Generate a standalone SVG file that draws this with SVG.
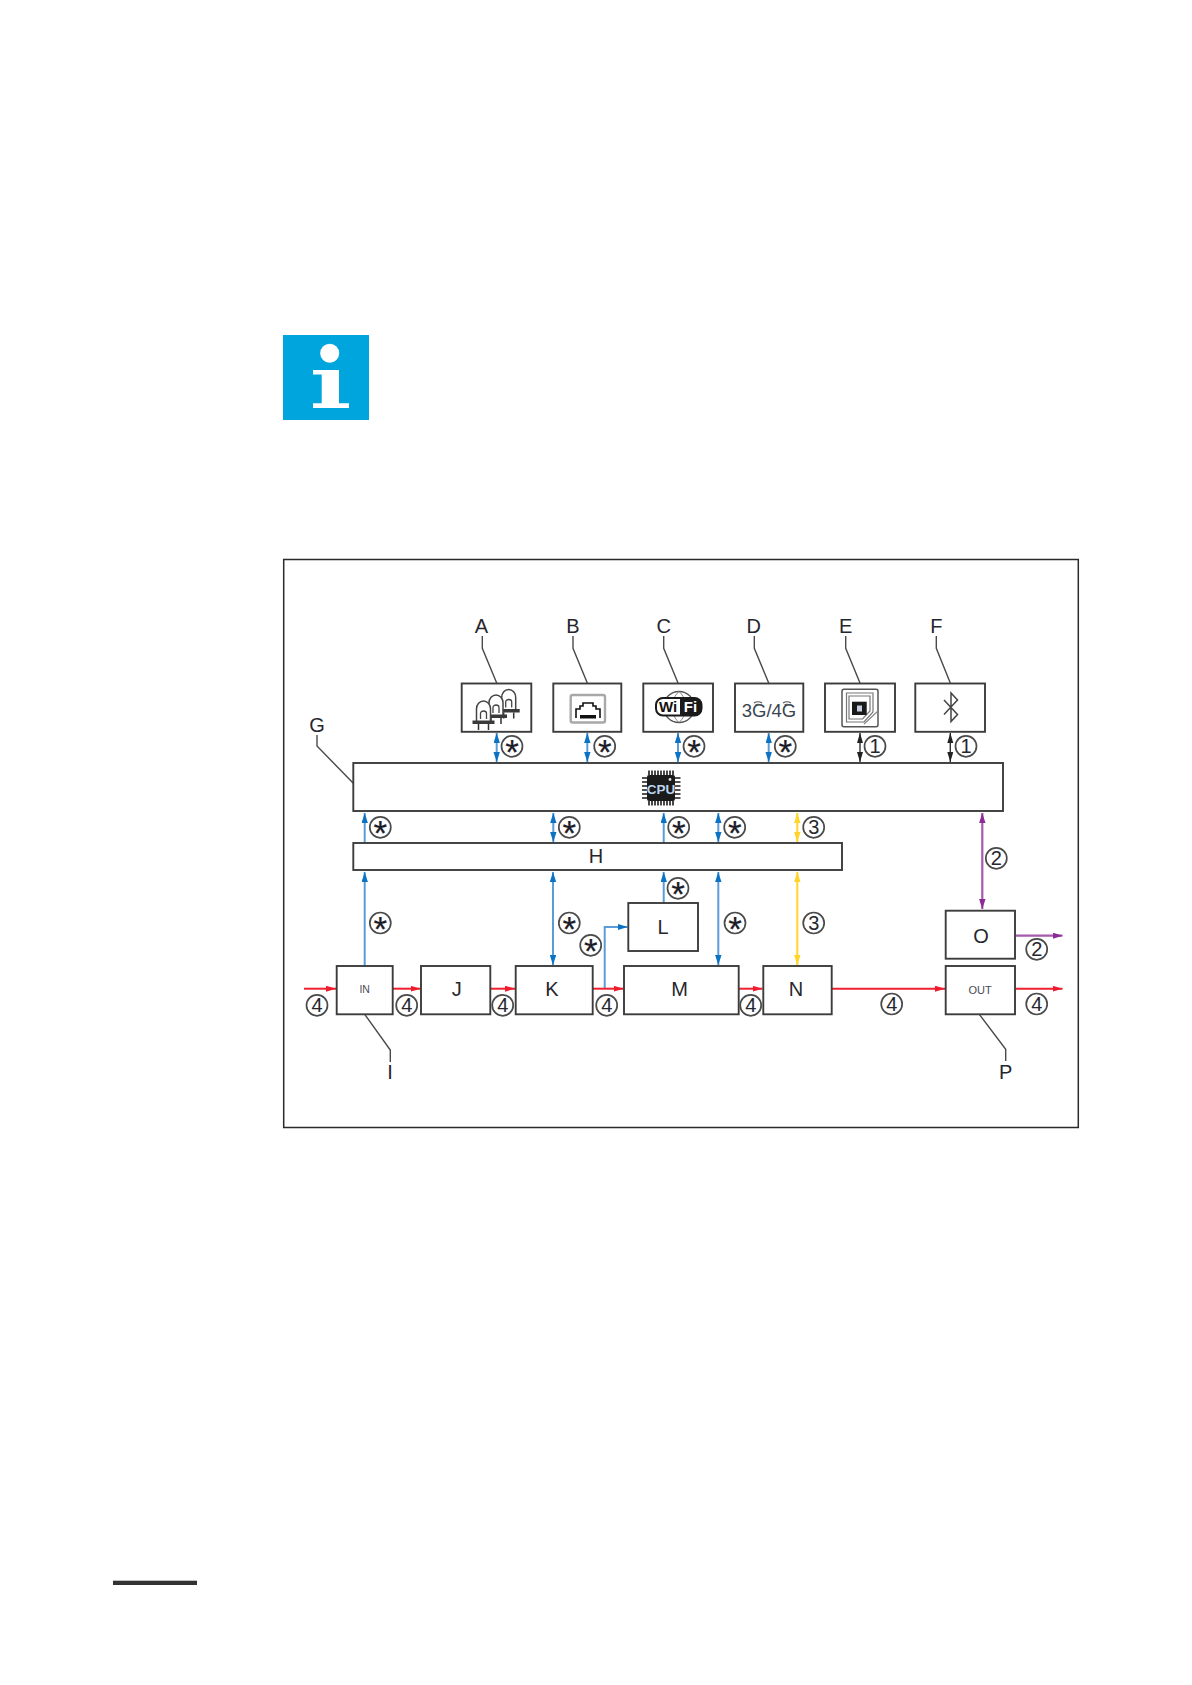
<svg xmlns="http://www.w3.org/2000/svg" xmlns:xlink="http://www.w3.org/1999/xlink" width="1192" height="1685" viewBox="0 0 1192 1685">
<style>
text{font-family:"Liberation Sans",Arial,sans-serif;fill:#26262e}
.box{fill:#fff;stroke:#3c3c3c;stroke-width:1.9}
.lab{font-size:20px;text-anchor:middle}
.small{font-size:10.500px;text-anchor:middle;fill:#4a4a55}
.lead{fill:none;stroke:#4a4a4a;stroke-width:1.4}
.ring{fill:#fff;stroke:#4a4a4a;stroke-width:1.700}
.num{font-size:20px;text-anchor:middle}
.star{font-size:35px;text-anchor:middle;fill:#1c1c28;stroke:#1c1c28;stroke-width:.2}
.blue{fill:none;stroke:#5a9cd8;stroke-width:2}
.red{fill:none;stroke:#f0202e;stroke-width:2}
.yel{fill:none;stroke:#ffd93b;stroke-width:2.200}
.pur{fill:none;stroke:#a55bab;stroke-width:2.200}
.blk{fill:none;stroke:#333;stroke-width:1.400}
</style>
<defs>
<marker id="mb" markerUnits="userSpaceOnUse" markerWidth="11" markerHeight="7" refX="10" refY="3.200" orient="auto-start-reverse"><path d="M0 0L10 3.200L0 6.400Z" fill="#0c72c4"/></marker>
<marker id="mr" markerUnits="userSpaceOnUse" markerWidth="11" markerHeight="7" refX="10" refY="3" orient="auto-start-reverse"><path d="M0 0L10 3L0 6Z" fill="#ee1c2e"/></marker>
<marker id="my" markerUnits="userSpaceOnUse" markerWidth="11" markerHeight="7" refX="10" refY="3.200" orient="auto-start-reverse"><path d="M0 0L10 3.200L0 6.400Z" fill="#ffd52b"/></marker>
<marker id="mp" markerUnits="userSpaceOnUse" markerWidth="11" markerHeight="7" refX="10" refY="3.200" orient="auto-start-reverse"><path d="M0 0L10 3.200L0 6.400Z" fill="#8c2a96"/></marker>
<marker id="mk" markerUnits="userSpaceOnUse" markerWidth="11" markerHeight="7" refX="10" refY="3" orient="auto-start-reverse"><path d="M0 0L10 3L0 6Z" fill="#222"/></marker>
<g id="led">
<path d="M-7 9V-3a7 8 0 0 1 14 0V9" fill="#fff" stroke="#444" stroke-width="1.500"/>
<rect x="-11" y="8.500" width="22" height="3.500" fill="#3a3a3a"/>
<path d="M-5 12v6M5 12v6" stroke="#333" stroke-width="1.500"/>
<path d="M-3 7V1.500a3 2.500 0 0 1 6 0V7" fill="none" stroke="#444" stroke-width="1.300"/>
</g>
</defs>
<rect width="1192" height="1685" fill="#fff"/>

<g id="info-icon">
<rect x="283" y="335" width="86" height="85" fill="#00a5de"/>
<circle cx="329.700" cy="353.300" r="9.500" fill="#fff"/>
<path d="M313 370H339V403.300H349V408H313V403.300H321.700V374.500H313Z" fill="#fff"/>
</g>

<rect id="frame" x="283.700" y="559.500" width="794.600" height="568" fill="none" stroke="#2a2a2a" stroke-width="1.500"/>

<g id="connectors">
<path class="blue" d="M496.700 733V762" marker-start="url(#mb)" marker-end="url(#mb)"/>
<path class="blue" d="M587.300 733V762" marker-start="url(#mb)" marker-end="url(#mb)"/>
<path class="blue" d="M678 733V762" marker-start="url(#mb)" marker-end="url(#mb)"/>
<path class="blue" d="M768.700 733V762" marker-start="url(#mb)" marker-end="url(#mb)"/>
<path class="blk" d="M860 733V762" marker-start="url(#mk)" marker-end="url(#mk)"/>
<path class="blk" d="M950.300 733V762" marker-start="url(#mk)" marker-end="url(#mk)"/>
<path class="blue" d="M364.700 843V813" marker-end="url(#mb)"/>
<path class="blue" d="M553.300 842V813" marker-start="url(#mb)" marker-end="url(#mb)"/>
<path class="blue" d="M663.700 843V813" marker-end="url(#mb)"/>
<path class="blue" d="M718.300 842V813" marker-start="url(#mb)" marker-end="url(#mb)"/>
<path class="yel" d="M797.300 842V813" marker-start="url(#my)" marker-end="url(#my)"/>
<path class="pur" d="M982.300 909V813" marker-start="url(#mp)" marker-end="url(#mp)"/>
<path class="blue" d="M364.700 966V872" marker-end="url(#mb)"/>
<path class="blue" d="M553 965V872" marker-start="url(#mb)" marker-end="url(#mb)"/>
<path class="blue" d="M663.700 903V872" marker-end="url(#mb)"/>
<path class="blue" d="M718.300 965V872" marker-start="url(#mb)" marker-end="url(#mb)"/>
<path class="yel" d="M797.300 965V872" marker-start="url(#my)" marker-end="url(#my)"/>
<path class="blue" d="M604.700 988.700V927H627.500" marker-end="url(#mb)"/>
<path class="red" d="M304 988.700H336" marker-end="url(#mr)"/>
<path class="red" d="M393 988.700H420.500" marker-end="url(#mr)"/>
<path class="red" d="M491 988.700H515" marker-end="url(#mr)"/>
<path class="red" d="M593 988.700H623.500" marker-end="url(#mr)"/>
<path class="red" d="M739 988.700H762.500" marker-end="url(#mr)"/>
<path class="red" d="M832 988.700H945" marker-end="url(#mr)"/>
<path class="red" d="M1015.500 988.700H1062.500" marker-end="url(#mr)"/>
<path class="pur" d="M1015.500 935.700H1062.500" marker-end="url(#mp)"/>
<path class="lead" d="M482.300 636V648.300L496.700 683"/>
<path class="lead" d="M573 636V648.300L587.300 683"/>
<path class="lead" d="M663.700 636V648.300L678 683"/>
<path class="lead" d="M754.300 636V648.300L768.700 683"/>
<path class="lead" d="M845.700 636V648.300L860 683"/>
<path class="lead" d="M936.300 636V648.300L950.300 683"/>
<path class="lead" d="M317 735V746L353.300 783.300"/>
<path class="lead" d="M364.700 1014.300L390.300 1050V1062"/>
<path class="lead" d="M979.300 1014.300L1005.700 1049.300V1061"/>
</g>

<g id="A"><rect class="box" x="461.700" y="683.500" width="69.600" height="48.300"/>
<use xlink:href="#led" href="#led" x="508.700" y="700.500"/><use xlink:href="#led" href="#led" x="496" y="706"/><use xlink:href="#led" href="#led" x="483.500" y="712"/>
<text class="lab" x="481.300" y="633.300">A</text></g>
<g id="B"><rect class="box" x="553.300" y="683.500" width="68" height="48.300"/>
<rect x="570.700" y="695" width="34.300" height="27.500" rx="2" fill="#fff" stroke="#a8a8a8" stroke-width="2.400"/>
<path d="M576 718V709H580V706H583V703H593V706H596V709H600V718" fill="none" stroke="#111" stroke-width="1.600"/>
<rect x="580" y="715" width="16" height="3.500" fill="#111"/>
<text class="lab" x="573" y="633.300">B</text></g>
<g id="C"><rect class="box" x="643.300" y="683.500" width="69.700" height="48.300"/>
<circle cx="679" cy="707" r="15.500" fill="#fff" stroke="#555" stroke-width="1.300"/>
<path d="M679 691.500c-9 8-9 23 0 31M679 691.500c9 8 9 23 0 31" fill="none" stroke="#777" stroke-width=".9"/>
<rect x="656" y="698" width="45.500" height="17.500" rx="7" fill="#fff" stroke="#1a1a1a" stroke-width="2"/>
<path d="M680 698H694.500a7 7 0 0 1 7 7v3.500a7 7 0 0 1-7 7H680Z" fill="#1a1a1a"/>
<text x="668" y="712" style="font-size:15px;font-weight:bold;text-anchor:middle;fill:#111">Wi</text>
<text x="690.500" y="712" style="font-size:15px;font-weight:bold;text-anchor:middle;fill:#fff">Fi</text>
<text class="lab" x="663.700" y="633.300">C</text></g>
<g id="D"><rect class="box" x="735" y="683.500" width="68.300" height="48.300"/>
<text x="769" y="717" style="font-size:18.500px;text-anchor:middle;fill:#3a4450">3G/4G</text>
<path d="M754 703q4-2.500 8 0M755.500 705q2.500-1.500 5 0M783 703q4-2.500 8 0M784.500 705q2.500-1.500 5 0" fill="none" stroke="#555" stroke-width="1.200"/>
<text class="lab" x="753.700" y="633.300">D</text></g>
<g id="E"><rect class="box" x="825" y="683.500" width="70" height="48.300"/>
<path d="M844 689.300H876a2 2 0 0 1 2 2V724.700a2 2 0 0 1-2 2H844a2 2 0 0 1-2-2V691.300a2 2 0 0 1 2-2Z" fill="#fff" stroke="#555" stroke-width="1.500"/>
<path d="M846.500 693H873V712L864 722H846.500Z M849 696H870V711L862.500 719H849Z" fill="none" stroke="#777" stroke-width="1.200"/>
<rect x="852" y="701.700" width="14.700" height="13.300" fill="#1a1a1a"/>
<rect x="857" y="705.500" width="5" height="6" fill="#c8d0e0"/>
<path d="M864 724L878 711" stroke="#888" stroke-width="1.200"/>
<text class="lab" x="845.700" y="633.300">E</text></g>
<g id="F"><rect class="box" x="915.300" y="683.500" width="69.700" height="48.300"/>
<path d="M944 700L957.500 714.500L951 721.500V693L957.500 700L944 714.500" fill="none" stroke="#444" stroke-width="1.500"/>
<text class="lab" x="936.300" y="633.300">F</text></g>
<g id="G"><rect class="box" x="353.300" y="763" width="649.700" height="48"/>
<rect x="647" y="775" width="28" height="26" rx="2" fill="#1a1a1a"/>
<path d="M649 770.500V775M652 770.500V775M655 770.500V775M658 770.500V775M661 770.500V775M664 770.500V775M667 770.500V775M670 770.500V775M673 770.500V775M649 801V805.500M652 801V805.500M655 801V805.500M658 801V805.500M661 801V805.500M664 801V805.500M667 801V805.500M670 801V805.500M673 801V805.500M642 778H647M642 782H647M642 786H647M642 790H647M642 794H647M642 798H647M675 778H680.500M675 782H680.500M675 786H680.500M675 790H680.500M675 794H680.500M675 798H680.500" stroke="#1a1a1a" stroke-width="1.600"/>
<text x="661" y="793.500" style="font-size:13.500px;font-weight:bold;text-anchor:middle;fill:#bcd6ee">CPU</text>
<circle cx="670" cy="779.500" r="1.400" fill="#ddd"/>
<text class="lab" x="317" y="731.700">G</text></g>
<g id="H"><rect class="box" x="353.300" y="843" width="488.700" height="27"/><text class="lab" x="596" y="863">H</text></g>
<g id="L"><rect class="box" x="628.300" y="903" width="69.700" height="48"/><text class="lab" x="663" y="933.500">L</text></g>
<g id="I"><rect class="box" x="336.700" y="966" width="56" height="48.300"/><text class="small" x="364.700" y="993">IN</text><text class="lab" x="390" y="1079.300">I</text></g>
<g id="J"><rect class="box" x="421" y="966" width="69.300" height="48.300"/><text class="lab" x="456.700" y="995.500">J</text></g>
<g id="K"><rect class="box" x="515.700" y="966" width="77" height="48.300"/><text class="lab" x="552" y="995.500">K</text></g>
<g id="M"><rect class="box" x="624" y="966" width="114.700" height="48.300"/><text class="lab" x="679.700" y="995.500">M</text></g>
<g id="N"><rect class="box" x="763.300" y="966" width="68.400" height="48.300"/><text class="lab" x="796" y="995.500">N</text></g>
<g id="O"><rect class="box" x="945.700" y="910.700" width="69.300" height="48"/><text class="lab" x="981" y="943">O</text></g>
<g id="P"><rect class="box" x="945.700" y="966" width="69.300" height="48.300"/><text class="small" x="980" y="994" style="font-size:11px">OUT</text><text class="lab" x="1005.700" y="1079.300">P</text></g>

<g id="footer-bar"><rect x="113" y="1580.700" width="84" height="4.300" fill="#333"/></g>

<g id="markers">
<g><circle class="ring" cx="512" cy="746.300" r="10.500"/><text class="star" x="512" y="763.800">*</text></g>
<g><circle class="ring" cx="604.700" cy="746.300" r="10.500"/><text class="star" x="604.700" y="763.800">*</text></g>
<g><circle class="ring" cx="694" cy="746.300" r="10.500"/><text class="star" x="694" y="763.800">*</text></g>
<g><circle class="ring" cx="785.300" cy="746.300" r="10.500"/><text class="star" x="785.300" y="763.800">*</text></g>
<g><circle class="ring" cx="875" cy="746.300" r="10.500"/><text class="num" x="875" y="753.300">1</text></g>
<g><circle class="ring" cx="966" cy="746.300" r="10.500"/><text class="num" x="966" y="753.300">1</text></g>
<g><circle class="ring" cx="380.300" cy="827.300" r="10.500"/><text class="star" x="380.300" y="844.800">*</text></g>
<g><circle class="ring" cx="569.300" cy="827.300" r="10.500"/><text class="star" x="569.300" y="844.800">*</text></g>
<g><circle class="ring" cx="678.700" cy="827.300" r="10.500"/><text class="star" x="678.700" y="844.800">*</text></g>
<g><circle class="ring" cx="734.700" cy="827.300" r="10.500"/><text class="star" x="734.700" y="844.800">*</text></g>
<g><circle class="ring" cx="813.700" cy="827.300" r="10.500"/><text class="num" x="813.700" y="834.300">3</text></g>
<g><circle class="ring" cx="996.300" cy="858.300" r="10.500"/><text class="num" x="996.300" y="865.300">2</text></g>
<g><circle class="ring" cx="678" cy="888.300" r="10.500"/><text class="star" x="678" y="905.800">*</text></g>
<g><circle class="ring" cx="380.300" cy="923" r="10.500"/><text class="star" x="380.300" y="940.500">*</text></g>
<g><circle class="ring" cx="569.300" cy="923" r="10.500"/><text class="star" x="569.300" y="940.500">*</text></g>
<g><circle class="ring" cx="735" cy="923" r="10.500"/><text class="star" x="735" y="940.500">*</text></g>
<g><circle class="ring" cx="813.700" cy="923" r="10.500"/><text class="num" x="813.700" y="930">3</text></g>
<g><circle class="ring" cx="590.700" cy="945.300" r="10.500"/><text class="star" x="590.700" y="962.800">*</text></g>
<g><circle class="ring" cx="1036.700" cy="949.300" r="10.500"/><text class="num" x="1036.700" y="956.300">2</text></g>
<g><circle class="ring" cx="317" cy="1005.300" r="10.500"/><text class="num" x="317" y="1012.300">4</text></g>
<g><circle class="ring" cx="406.700" cy="1005.300" r="10.500"/><text class="num" x="406.700" y="1012.300">4</text></g>
<g><circle class="ring" cx="502.700" cy="1005.300" r="10.500"/><text class="num" x="502.700" y="1012.300">4</text></g>
<g><circle class="ring" cx="606.700" cy="1005.300" r="10.500"/><text class="num" x="606.700" y="1012.300">4</text></g>
<g><circle class="ring" cx="750.700" cy="1005.300" r="10.500"/><text class="num" x="750.700" y="1012.300">4</text></g>
<g><circle class="ring" cx="891.700" cy="1004" r="10.500"/><text class="num" x="891.700" y="1011">4</text></g>
<g><circle class="ring" cx="1036.700" cy="1004" r="10.500"/><text class="num" x="1036.700" y="1011">4</text></g>
</g>
</svg>
